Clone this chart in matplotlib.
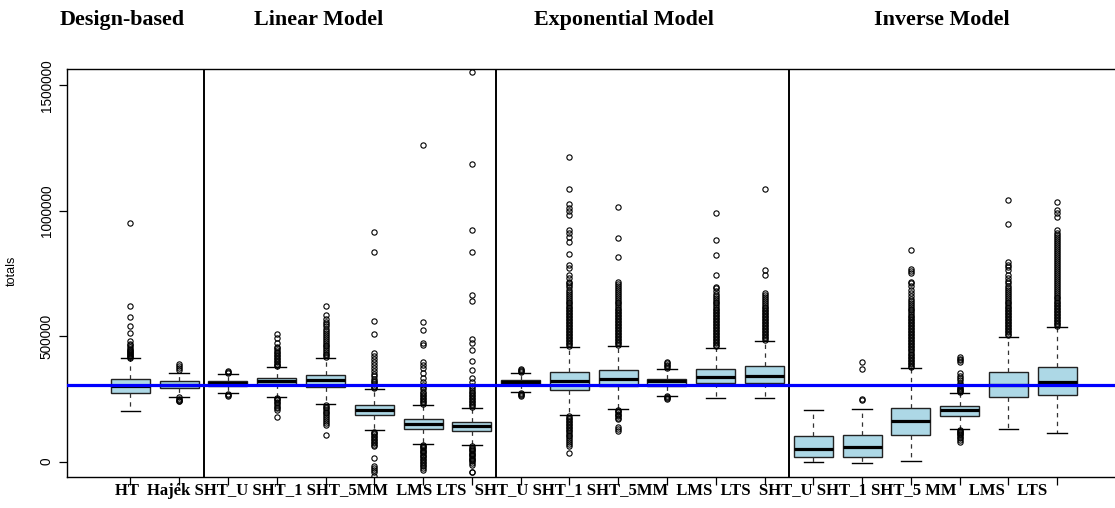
import numpy as np
import matplotlib
matplotlib.use("Agg")
from matplotlib import pyplot as plt

# values, in thousands
labels = ["HT", "Hajek", "L_SHT_U", "L_SHT_1", "L_SHT_5", "L_MM", "L_LMS", "L_LTS",
          "E_SHT_U", "E_SHT_1", "E_SHT_5", "E_MM", "E_LMS", "E_LTS",
          "I_SHT_U", "I_SHT_1", "I_SHT_5", "I_MM", "I_LMS", "I_LTS"]
whisk_lo = [203, 259, 272, 259, 229, 125, 72, 65,
            276, 185, 210, 263, 253, 253,
            0, -4, 3, 130, 130, 113]
q1 = [275, 294, 302, 310, 296, 185, 129, 124,
      310, 287, 302, 302, 315, 315,
      18, 20, 105, 183, 259, 266]
medians = [302, 305, 312, 320, 324, 206, 149, 141,
           316, 320, 328, 320, 339, 341,
           52, 60, 163, 206, 304, 319]
q3 = [328, 320, 323, 332, 344, 226, 169, 159,
      324, 356, 365, 328, 369, 382,
      102, 106, 213, 222, 356, 376]
whisk_hi = [412, 355, 349, 376, 413, 288, 225, 214,
            352, 457, 461, 369, 454, 481,
            205, 211, 372, 274, 498, 537]
outliers = [
    [949, 620, 578, 542, 514, 482, 470, 463, 456, 450, 445, 440, 436, 432, 428, 424, 420, 417, 414],
    [389, 381, 373, 366, 256, 251, 247, 243, 240],
    [355, 359, 362, 270, 266, 262],
    [380, 385, 391, 397, 403, 409, 415, 421, 427, 433, 439, 445, 451, 458, 472, 492, 509,
     254, 249, 244, 238, 232, 226, 219, 212, 206, 177],
    [418, 424, 431, 438, 445, 452, 459, 466, 473, 481, 489, 497, 505, 513, 521, 530, 539, 548,
     558, 570, 584, 620, 224, 218, 212, 206, 199, 192, 185, 177, 169, 161, 153, 146, 108],
    [293, 298, 303, 309, 316, 323, 331, 340, 350, 361, 372, 384, 396, 408, 420, 432, 508, 562,
     837, 916, 120, 115, 110, 104, 98, 92, 86, 80, 74, 68, 62, 15, -16, -24, -32, -40, -58],
    [230, 236, 242, 248, 254, 260, 266, 272, 279, 288, 296, 305, 319, 332, 355, 372, 385, 398,
     465, 474, 525, 558, 1263, 68, 63, 58, 53, 48, 43, 38, 33, 28, 23, 18, 12, 6, 0, -6, -12,
     -19, -26, -33],
    [218, 224, 230, 236, 242, 248, 254, 260, 266, 272, 279, 286, 294, 302, 319, 332, 365, 401,
     445, 474, 488, 641, 664, 837, 922, 1185, 1553, 61, 56, 51, 46, 41, 36, 31, 26, 21, 16, 11,
     6, 1, -5, -13, -40, -43],
    [357, 362, 367, 370, 274, 270, 266, 263],
    [462, 468, 474, 480, 486, 492, 498, 504, 510, 516, 522, 528, 534, 540, 546, 552, 558, 564,
     570, 576, 582, 588, 594, 600, 606, 612, 618, 624, 631, 638, 646, 654, 662, 670, 678, 686,
     694, 702, 710, 717, 730, 744, 771, 784, 828, 876, 896, 910, 923, 983, 997, 1012, 1027,
     1085, 1214, 181, 175, 169, 163, 157, 151, 145, 139, 133, 127, 121, 115, 108, 101, 94, 87,
     80, 72, 64, 36],
    [466, 472, 478, 484, 490, 496, 502, 508, 514, 520, 526, 532, 538, 544, 550, 556, 562, 568,
     574, 580, 586, 592, 598, 604, 610, 617, 624, 631, 638, 645, 652, 660, 668, 676, 684, 692,
     700, 708, 717, 817, 890, 1015, 206, 201, 196, 191, 186, 181, 176, 170, 139, 131, 123],
    [375, 380, 386, 392, 398, 261, 257, 253, 250],
    [460, 466, 472, 478, 484, 490, 496, 502, 508, 514, 520, 526, 532, 538, 544, 550, 556, 562,
     568, 574, 580, 586, 592, 598, 604, 610, 617, 624, 631, 638, 646, 654, 662, 670, 680, 690,
     697, 744, 824, 883, 990],
    [486, 492, 498, 504, 510, 516, 522, 528, 534, 540, 546, 552, 558, 564, 570, 576, 582, 588,
     594, 600, 606, 612, 618, 625, 633, 640, 648, 656, 664, 672, 743, 764, 1085],
    [],
    [247, 250, 370, 397],
    [377, 383, 389, 395, 401, 407, 413, 419, 425, 431, 437, 443, 449, 455, 461, 467, 473, 479,
     485, 491, 497, 503, 509, 515, 521, 527, 533, 539, 545, 551, 557, 563, 569, 575, 582, 589,
     596, 603, 610, 617, 624, 632, 640, 650, 660, 672, 686, 700, 710, 717, 752, 760, 767, 842],
    [278, 282, 286, 290, 295, 300, 306, 312, 325, 332, 340, 353, 398, 404, 410, 416,
     128, 124, 120, 116, 112, 106, 100, 94, 87, 80],
    [503, 509, 515, 521, 527, 533, 539, 545, 551, 557, 563, 569, 575, 581, 587, 593, 599, 605,
     611, 617, 624, 631, 638, 645, 652, 660, 668, 676, 684, 692, 700, 710, 720, 731, 743, 763,
     775, 785, 796, 946, 1041],
    [542, 548, 554, 560, 566, 572, 578, 584, 590, 596, 602, 608, 614, 620, 626, 632, 638, 644,
     651, 658, 665, 672, 680, 688, 696, 704, 712, 720, 728, 736, 744, 752, 760, 768, 776, 784,
     792, 800, 808, 816, 824, 832, 840, 848, 856, 864, 872, 880, 888, 896, 904, 912, 923, 976,
     990, 1002, 1035],
]
true_total = 304.4
group_titles = ["Design-based", "Linear Model", "Exponential Model", "Inverse Model"]
group_sizes = [2, 6, 6, 6]
tick_text = ("HT  Hajék SHT_U SHT_1 SHT_5MM  LMS LTS  SHT_U SHT_1 SHT_5MM  LMS  LTS  "
             "SHT_U SHT_1 SHT_5 MM   LMS   LTS")

W, H = 1115, 508


def main():
    fig = plt.figure(figsize=(W / 100, H / 100), dpi=100)
    # plot region runs past the right edge, as in the reference
    ax = fig.add_axes([67 / W, 1 - 477 / H, (1120.6 - 67) / W, (477 - 69) / H])

    stats = []
    for i in range(len(labels)):
        stats.append(dict(label=labels[i], whislo=whisk_lo[i] * 1000, q1=q1[i] * 1000,
                          med=medians[i] * 1000, q3=q3[i] * 1000, whishi=whisk_hi[i] * 1000,
                          fliers=np.array(outliers[i], dtype=float) * 1000))
    positions = np.arange(1, len(labels) + 1)
    ax.bxp(stats, positions=positions, widths=0.8, patch_artist=True,
           boxprops=dict(facecolor="#ADD8E6", edgecolor="#222222", linewidth=1.0),
           medianprops=dict(color="black", linewidth=2.3, solid_capstyle="butt"),
           whiskerprops=dict(color="#333333", linewidth=0.9, linestyle=(0, (3.5, 3.5))),
           capprops=dict(color="black", linewidth=1.0),
           flierprops=dict(marker="o", markerfacecolor="none", markeredgecolor="black",
                           markersize=3.8, markeredgewidth=0.8, linestyle="none"))

    bounds = np.cumsum(group_sizes)[:-1] + 0.5
    for b in bounds:
        ax.axvline(b, color="black", linewidth=1.4, zorder=5)
    ax.axhline(true_total * 1000, color="#0000FF", linewidth=2.3, zorder=6)

    ax.set_xlim(-0.3, len(labels) + 1.3)
    ax.set_ylim(-61000, 1564500)
    ax.set_xticks(positions)
    ax.set_xticklabels([])
    ax.set_yticks([0, 500000, 1000000, 1500000])
    ax.set_yticklabels(["0", "500000", "1000000", "1500000"], rotation=90, va="center",
                       family="Liberation Sans", fontsize=9.8)
    ax.tick_params(direction="out", length=5.5, width=0.9, colors="black", pad=4)
    for side in ["left", "bottom", "top"]:
        ax.spines[side].set_linewidth(1.0)
    ax.spines["right"].set_visible(False)

    fig.text(12 / W, 1 - 271 / H, "totals", rotation=90, ha="center", va="center",
             family="Liberation Sans", fontsize=9)

    renderer = fig.canvas.get_renderer()
    t = fig.text(581 / W, 1 - 495 / H, tick_text, ha="center", va="baseline",
                 family="Liberation Serif", fontweight="bold", fontsize=13)
    wpx = t.get_window_extent(renderer).width
    t.set_fontsize(13 * 928 / wpx)

    title_centers = [122.5, 319, 624, 941.5]
    tt = []
    for name, cx in zip(group_titles, title_centers):
        tt.append(fig.text(cx / W, 1 - 25 / H, name, ha="center", va="baseline",
                           family="Liberation Serif", fontweight="bold", fontsize=15))
    wpx = tt[0].get_window_extent(renderer).width
    for x in tt:
        x.set_fontsize(15 * 125 / wpx)

    fig.savefig("out.png", dpi=100)


if __name__ == "__main__":
    main()
